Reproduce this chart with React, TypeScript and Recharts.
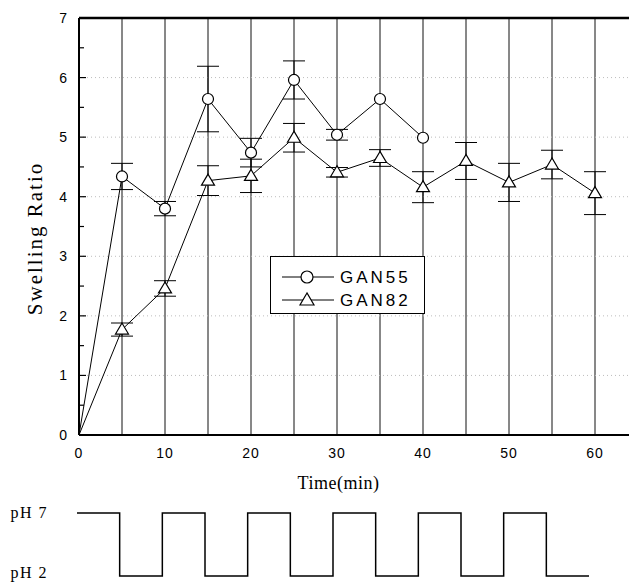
import {
  LineChart,
  Line,
  XAxis,
  YAxis,
  CartesianGrid,
  ReferenceLine,
  ErrorBar,
  Legend,
  Label,
} from 'recharts';

const SANS = '"Liberation Sans", Arial, sans-serif';
const SERIF = '"Liberation Serif", "Times New Roman", serif';

// swelling ratio vs time, two gel compositions
const times = [0, 5, 10, 15, 20, 25, 30, 35, 40, 45, 50, 55, 60];
const gan55 = [0, 4.34, 3.8, 5.64, 4.74, 5.96, 5.04, 5.64, 4.99, null, null, null, null];
const gan55Err = [null, 0.22, 0.12, 0.55, 0.24, 0.32, 0.09, null, null, null, null, null, null];
const gan82 = [0, 1.77, 2.46, 4.27, 4.35, 4.99, 4.41, 4.65, 4.16, 4.6, 4.24, 4.54, 4.06];
const gan82Err = [null, 0.11, 0.13, 0.25, 0.28, 0.24, 0.08, 0.14, 0.26, 0.31, 0.32, 0.24, 0.36];

const xTicks = [0, 5, 10, 15, 20, 25, 30, 35, 40, 45, 50, 55, 60, 65];
const yTicks = [0, 0.5, 1, 1.5, 2, 2.5, 3, 3.5, 4, 4.5, 5, 5.5, 6, 6.5, 7];
const gridLevels = [1, 2, 3, 4, 5, 6];

// pH switching schedule (value holds until next time point)
const phTimes = [0, 5, 10, 15, 20, 25, 30, 35, 40, 45, 50, 55, 60];
const phLevels = [7, 2, 7, 2, 7, 2, 7, 2, 7, 2, 7, 2, 2];
const phTicks = [2, 7];

const rows = times.map((t, i) => ({
  t,
  gan55: gan55[i],
  e55: gan55Err[i],
  gan82: gan82[i],
  e82: gan82Err[i],
}));

const phRows = phTimes.map((t, i) => ({ t, ph: phLevels[i] }));

const YTick = (props: any) => {
  const { x, y, payload } = props;
  const v = payload.value;
  const major = Number.isInteger(v);
  const axisX = x + 11;
  return (
    <g>
      <line x1={axisX} x2={axisX + (major ? 7 : 5)} y1={y} y2={y} stroke="#000" strokeWidth={1.2} />
      {major && (
        <text x={x} y={y} dy={5} textAnchor="end" fontFamily={SANS} fontSize={14} letterSpacing={1} fill="#000">
          {v}
        </text>
      )}
    </g>
  );
};

const XTick = (props: any) => {
  const { x, y, payload } = props;
  const v = payload.value;
  if (v % 10 !== 0) return <g />;
  return (
    <text x={x} y={y} dy={12} textAnchor="middle" fontFamily={SANS} fontSize={14} letterSpacing={1} fill="#000">
      {v}
    </text>
  );
};

// pH labels; the lower one sits a little higher so it stays inside the frame
const PhTick = (props: any) => {
  const { x, y, payload } = props;
  const lift = payload.value === 2 ? -3 : 0;
  return (
    <text x={x} y={y + lift} dy={5} textAnchor="end" fontFamily={SERIF} fontSize={16} letterSpacing={1.5} fill="#000">
      {`pH ${payload.value}`}
    </text>
  );
};

const YTitle = (props: any) => {
  const { viewBox } = props;
  const cx = 27;
  const cy = viewBox.y + viewBox.height / 2 + 12;
  return (
    <text
      x={cx}
      y={cy}
      transform={`rotate(-90 ${cx} ${cy})`}
      textAnchor="middle"
      dominantBaseline="central"
      fontFamily={SERIF}
      fontSize={21}
      letterSpacing={2}
      fill="#000"
    >
      Swelling Ratio
    </text>
  );
};

const CircleDot = (props: any) => {
  const { cx, cy, index, value } = props;
  if (index === 0 || value == null || cx == null || cy == null) return <g key={`c-${index}`} />;
  return <circle key={`c-${index}`} cx={cx} cy={cy} r={5.5} fill="#fff" stroke="#000" strokeWidth={1.2} />;
};

const TriangleDot = (props: any) => {
  const { cx, cy, index, value } = props;
  if (index === 0 || value == null || cx == null || cy == null) return <g key={`t-${index}`} />;
  const pts = `${cx},${cy - 6.5} ${cx - 6.5},${cy + 4.5} ${cx + 6.5},${cy + 4.5}`;
  return <polygon key={`t-${index}`} points={pts} fill="#fff" stroke="#000" strokeWidth={1.2} />;
};

const LegendBox = ({ payload }: any) => (
  <div style={{ width: 155, height: 58, border: '1px solid #000', background: '#fff', boxSizing: 'border-box' }}>
    <svg width={153} height={56}>
      {(payload || []).map((entry: any, i: number) => {
        const cy = 20 + i * 23;
        return (
          <g key={entry.dataKey}>
            <line x1={11} x2={63} y1={cy} y2={cy} stroke="#000" strokeWidth={1} />
            {entry.dataKey === 'gan55' ? (
              <circle cx={36} cy={cy} r={6} fill="#fff" stroke="#000" strokeWidth={1.2} />
            ) : (
              <polygon
                points={`36,${cy - 7} 29,${cy + 5} 43,${cy + 5}`}
                fill="#fff"
                stroke="#000"
                strokeWidth={1.2}
              />
            )}
            <text x={69} y={cy} dy={6} fontFamily={SANS} fontSize={17} letterSpacing={3} fill="#000">
              {entry.value}
            </text>
          </g>
        );
      })}
    </svg>
  </div>
);

export default function App() {
  return (
    <div style={{ width: 629 }}>
      <div style={{ width: 629, height: 490, overflow: 'hidden' }}>
        <LineChart width={640} height={490} data={rows} margin={{ top: 10, right: 10, bottom: 0, left: 0 }}>
          <CartesianGrid horizontal={false} stroke="#111" strokeWidth={1} />
          {gridLevels.map((v) => (
            <ReferenceLine key={v} y={v} stroke="#bdbdbd" strokeDasharray="1 3" />
          ))}
          <ReferenceLine y={7} stroke="#000" strokeWidth={2.5} />
          <XAxis
            type="number"
            dataKey="t"
            domain={[0, 65]}
            ticks={xTicks}
            interval={0}
            tickSize={0}
            tickMargin={11}
            tick={XTick}
            height={63}
            axisLine={{ stroke: '#000', strokeWidth: 2 }}
            label={{
              value: 'Time(min)',
              position: 'insideBottom',
              offset: 9,
              dx: -20,
              style: { fontFamily: SERIF, fontSize: 18, letterSpacing: 0.5, fill: '#000' },
            }}
          />
          <YAxis
            type="number"
            domain={[0, 7]}
            ticks={yTicks}
            interval={0}
            tickSize={0}
            tickMargin={11}
            tick={YTick}
            width={71}
            axisLine={{ stroke: '#000', strokeWidth: 2 }}
          >
            <Label content={YTitle} />
          </YAxis>
          <Line
            type="linear"
            dataKey="gan55"
            name="GAN55"
            stroke="#000"
            strokeWidth={1}
            dot={CircleDot}
            activeDot={false}
            isAnimationActive={false}
          >
            <ErrorBar dataKey="e55" direction="y" width={11} stroke="#000" strokeWidth={1} />
          </Line>
          <Line
            type="linear"
            dataKey="gan82"
            name="GAN82"
            stroke="#000"
            strokeWidth={1}
            dot={TriangleDot}
            activeDot={false}
            isAnimationActive={false}
          >
            <ErrorBar dataKey="e82" direction="y" width={11} stroke="#000" strokeWidth={1} />
          </Line>
          <Legend
            layout="horizontal"
            verticalAlign="middle"
            align="center"
            content={LegendBox}
            wrapperStyle={{ top: 248, left: 262, width: 155, height: 58 }}
          />
        </LineChart>
      </div>
      <LineChart width={629} height={85} data={phRows} margin={{ top: 15, right: 48, bottom: 7, left: 0 }}>
        <XAxis type="number" dataKey="t" domain={[0, 60]} hide />
        <YAxis
          type="number"
          domain={[2, 7]}
          ticks={phTicks}
          interval={0}
          width={69}
          axisLine={false}
          tickLine={false}
          tickSize={0}
          tickMargin={29}
          tick={PhTick}
        />
        <Line
          type="stepAfter"
          dataKey="ph"
          stroke="#000"
          strokeWidth={1.5}
          dot={false}
          activeDot={false}
          isAnimationActive={false}
        />
      </LineChart>
    </div>
  );
}
